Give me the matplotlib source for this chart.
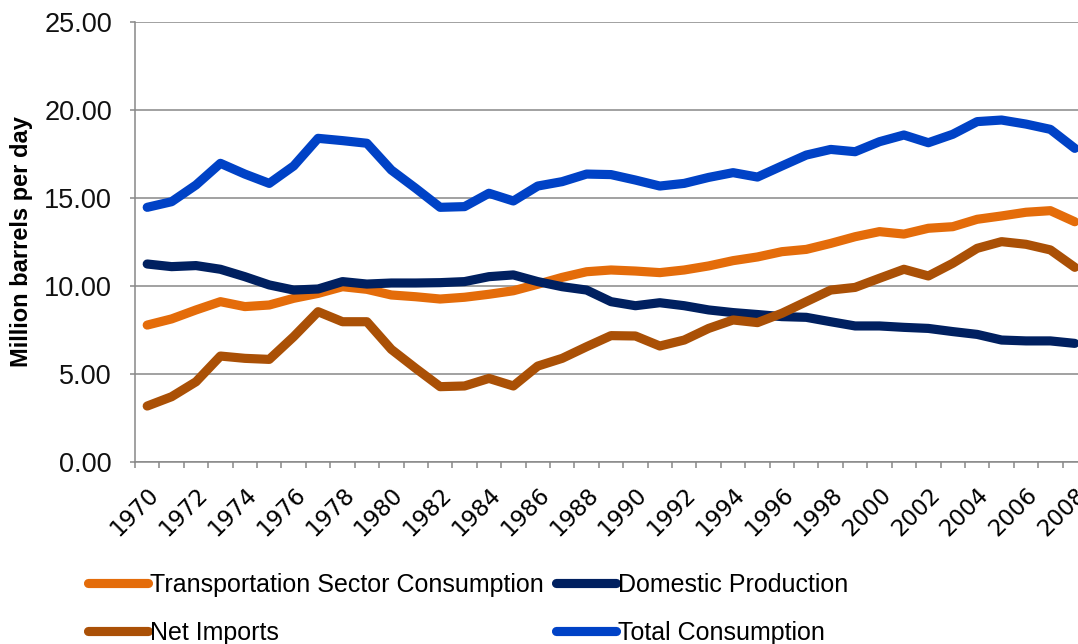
import matplotlib
matplotlib.use("Agg")
import matplotlib.pyplot as plt
from matplotlib.ticker import FormatStrFormatter, MultipleLocator, FixedLocator

years = list(range(1970, 2009))

transportation = [7.78, 8.13, 8.64, 9.11, 8.83, 8.92, 9.30, 9.58, 9.96, 9.81,
                  9.49, 9.39, 9.26, 9.36, 9.53, 9.73, 10.10, 10.49, 10.81, 10.91,
                  10.85, 10.76, 10.91, 11.14, 11.44, 11.65, 11.95, 12.08, 12.42, 12.80,
                  13.09, 12.95, 13.28, 13.37, 13.79, 13.98, 14.19, 14.28, 13.65]

domestic = [11.25, 11.10, 11.16, 10.95, 10.53, 10.06, 9.77, 9.83, 10.25, 10.11,
            10.17, 10.17, 10.19, 10.25, 10.53, 10.63, 10.25, 9.96, 9.77, 9.11,
            8.88, 9.05, 8.88, 8.64, 8.49, 8.38, 8.26, 8.22, 7.97, 7.73,
            7.73, 7.65, 7.59, 7.41, 7.25, 6.93, 6.88, 6.88, 6.74]

net_imports = [3.18, 3.71, 4.56, 6.02, 5.89, 5.83, 7.12, 8.54, 7.97, 7.97,
               6.40, 5.32, 4.28, 4.32, 4.75, 4.32, 5.45, 5.89, 6.55, 7.18,
               7.16, 6.59, 6.93, 7.59, 8.07, 7.92, 8.45, 9.11, 9.77, 9.92,
               10.44, 10.95, 10.57, 11.29, 12.14, 12.52, 12.37, 12.05, 11.06]

total = [14.47, 14.79, 15.74, 16.97, 16.36, 15.83, 16.82, 18.39, 18.26, 18.11,
         16.59, 15.55, 14.47, 14.51, 15.27, 14.83, 15.68, 15.93, 16.36, 16.33,
         16.02, 15.68, 15.83, 16.17, 16.44, 16.19, 16.82, 17.44, 17.76, 17.63,
         18.20, 18.58, 18.14, 18.62, 19.34, 19.43, 19.20, 18.90, 17.82]

series_names = ["Transportation Sector Consumption", "Domestic Production",
                "Net Imports", "Total Consumption"]
series_colors = ["#E46C0A", "#002060", "#AA5006", "#0042C6"]
series_values = [transportation, domestic, net_imports, total]

W, H = 1078, 644
fig = plt.figure(figsize=(W / 100, H / 100), dpi=100)
left_px, right_px, top_px, bottom_px = 135, 1087, 22, 462
ax = fig.add_axes([left_px / W, 1 - bottom_px / H,
                   (right_px - left_px) / W, (bottom_px - top_px) / H])

x = list(range(len(years)))
lines = {}
for name, color, vals in zip(series_names, series_colors, series_values):
    ln, = ax.plot(x, vals, color=color, lw=6.6, solid_capstyle="round",
                  solid_joinstyle="round", label=name, zorder=3)
    lines[name] = ln

ax.set_xlim(-0.5, len(years) - 0.5)
ax.set_ylim(0, 25)

grid_color = "#888888"
ax.yaxis.set_major_locator(MultipleLocator(5))
ax.yaxis.set_major_formatter(FormatStrFormatter("%.2f"))
ax.grid(axis="y", color=grid_color, lw=1.1, zorder=1)
ax.set_axisbelow(True)

for s in ["top", "right"]:
    ax.spines[s].set_visible(False)
for s in ["left", "bottom"]:
    ax.spines[s].set_color(grid_color)
    ax.spines[s].set_linewidth(1.1)

ax.tick_params(axis="y", which="major", length=3.6, width=1.1, color=grid_color,
               pad=13, labelsize=19.5, labelcolor="#111111")
for lbl in ax.get_yticklabels():
    lbl.set_family("Liberation Sans")

ax.xaxis.set_major_locator(FixedLocator(x[::2]))
ax.set_xticklabels([str(y) for y in years[::2]], rotation=45, ha="right",
                   va="top", rotation_mode="anchor", family="DejaVu Sans",
                   fontsize=16.5)
ax.tick_params(axis="x", which="major", length=0, pad=15)
ax.xaxis.set_minor_locator(FixedLocator([i - 0.5 for i in range(len(years) + 1)]))
ax.tick_params(axis="x", which="minor", length=4, width=1.1, color=grid_color)

ax.set_ylabel("Million barrels per day", family="Liberation Sans",
              fontweight="bold", fontsize=17)
ax.yaxis.set_label_coords((33 - left_px) / (right_px - left_px), 0.5)

order = ["Transportation Sector Consumption", "Net Imports",
         "Domestic Production", "Total Consumption"]
leg = fig.legend([lines[n] for n in order], order, ncol=2, frameon=False,
                 loc="upper left", bbox_to_anchor=(88 / W, 1 - 573 / H),
                 borderaxespad=0, borderpad=0,
                 prop={"family": "Liberation Sans", "size": 18},
                 handlelength=2.4, handletextpad=0.1, columnspacing=0.45,
                 labelspacing=0.95)

fig.savefig("out.png", dpi=100)
